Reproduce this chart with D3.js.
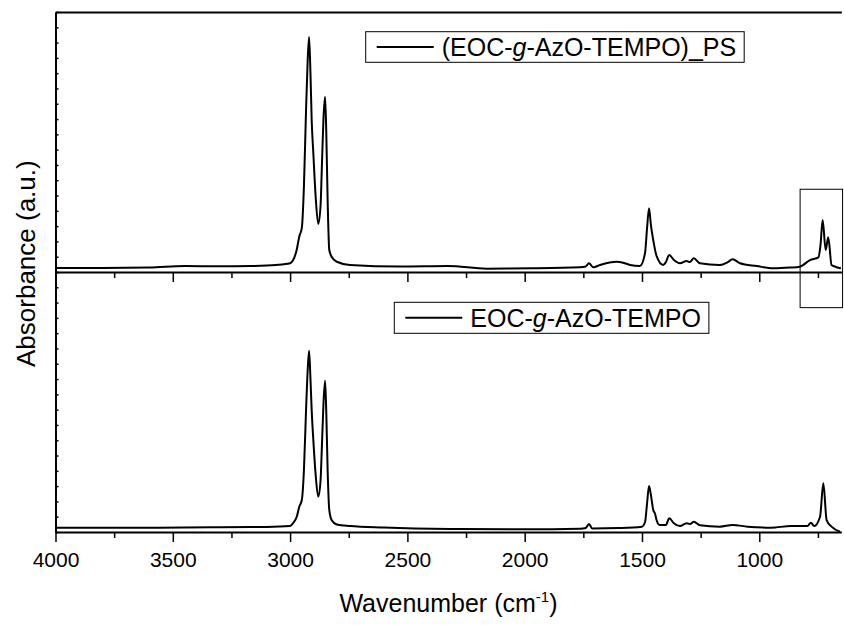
<!DOCTYPE html>
<html>
<head>
<meta charset="utf-8">
<script src="https://cdn.jsdelivr.net/npm/d3@7"></script>
<style>
  body { margin: 0; background: #fff; }
  svg { font-family: "Liberation Sans", Arial, sans-serif; }
</style>
</head>
<body>
<svg id="chart"></svg>
<script>
// top spectrum: (EOC-g-AzO-TEMPO)_PS
const psWave = [4000, 3800, 3600, 3450, 3300, 3170, 3060, 3000, 2987, 2972, 2961, 2950, 2941, 2932, 2925, 2919,
  2913, 2908, 2901, 2891, 2880, 2870, 2865, 2858, 2851, 2846, 2840, 2833, 2823, 2801, 2745, 2531, 2327, 2162,
  1965, 1764, 1740, 1726, 1708, 1679, 1608, 1580, 1551, 1509, 1487, 1479, 1470, 1462, 1452, 1438, 1410, 1398,
  1384, 1364, 1338, 1310, 1296, 1279, 1253, 1168, 1134, 1114, 1082, 1011, 940, 869, 827, 784, 748, 739, 730,
  717, 706, 692, 673, 652];
const psAbs = [-0.074, -0.074, -0.071, -0.061, -0.063, -0.061, -0.054, -0.043, -0.022, 0.044, 0.131, 0.188, 0.462,
  0.959, 1.286, 1.437, 1.188, 0.894, 0.678, 0.392, 0.214, 0.338, 0.567, 0.894, 1.046, 0.829, 0.371, 0.044, 0.0,
  -0.033, -0.054, -0.064, -0.061, -0.078, -0.076, -0.069, -0.064, -0.043, -0.069, -0.054, -0.033, -0.039, -0.054,
  -0.061, 0.024, 0.175, 0.317, 0.207, 0.109, 0.005, -0.054, -0.035, 0.011, -0.022, -0.043, -0.028, -0.035,
  -0.010, -0.043, -0.054, -0.035, -0.017, -0.043, -0.061, -0.076, -0.071, -0.065, -0.022, -0.004, 0.077, 0.240,
  0.044, 0.127, -0.054, -0.067, -0.076];

// bottom spectrum: EOC-g-AzO-TEMPO
const eocWave = [4000, 3600, 3300, 3100, 3000, 2987, 2972, 2961, 2950, 2941, 2932, 2925, 2919, 2913, 2908, 2901,
  2891, 2880, 2870, 2865, 2858, 2851, 2846, 2840, 2833, 2823, 2801, 2745, 2600, 2318, 2000, 1764, 1740, 1726,
  1712, 1600, 1500, 1487, 1479, 1470, 1462, 1452, 1444, 1438, 1425, 1398, 1384, 1364, 1338, 1310, 1296, 1279,
  1253, 1168, 1114, 1050, 950, 865, 795, 780, 766, 741, 727, 713, 692, 656];
const eocAbs = [-0.072, -0.072, -0.069, -0.067, -0.061, -0.041, -0.002, 0.065, 0.109, 0.305, 0.697, 0.959, 1.085,
  0.894, 0.697, 0.502, 0.273, 0.131, 0.240, 0.436, 0.730, 0.889, 0.697, 0.305, 0.044, -0.022, -0.051, -0.061,
  -0.071, -0.080, -0.082, -0.078, -0.074, -0.048, -0.077, -0.074, -0.065, -0.035, 0.077, 0.201, 0.142, 0.044,
  0.018, -0.022, -0.054, -0.054, -0.010, -0.043, -0.061, -0.043, -0.048, -0.033, -0.056, -0.065, -0.054,
  -0.065, -0.072, -0.061, -0.061, -0.039, -0.061, 0.0, 0.218, -0.022, -0.065, -0.098];

const majorTicks = [4000, 3500, 3000, 2500, 2000, 1500, 1000];
const minorTicks = [3750, 3250, 2750, 2250, 1750, 1250, 750];
const absTicks = d3.range(-0.1, 1.6001, 0.1);

// boxed region in the top panel (wavenumber / absorbance)
const boxWave = [826, 645];
const boxAbs = [0.441, -0.333];

const W = 844, H = 625;
const plotLeft = 55.5, plotRight = 841.4, plotTop = 12, plotMid = 272, plotBottom = 532;

const svg = d3.select('#chart').attr('width', W).attr('height', H);

const x = d3.scaleLinear().domain([4000, 650]).range([plotLeft, plotRight]);
const yTop = d3.scaleLinear().domain([-0.1, 1.6]).range([plotMid, plotTop]);
const yBot = d3.scaleLinear().domain([-0.1, 1.6]).range([plotBottom, plotMid]);

function styleAxis(g) {
  g.select('.domain').attr('stroke', '#000').attr('stroke-width', 2);
  g.selectAll('.tick line').attr('stroke', '#000').attr('stroke-width', 1.5);
}

// x axes for each panel
[[plotMid, false], [plotBottom, true]].forEach(([yPos, labels]) => {
  const gMaj = svg.append('g').attr('transform', `translate(0,${yPos})`)
    .call(d3.axisBottom(x).tickValues(majorTicks).tickSize(10).tickSizeOuter(0)
      .tickFormat(labels ? d3.format('d') : ''));
  styleAxis(gMaj);
  gMaj.selectAll('.tick text').attr('font-size', 21).attr('fill', '#000').attr('dy', '1.05em');
  const gMin = svg.append('g').attr('transform', `translate(0,${yPos})`)
    .call(d3.axisBottom(x).tickValues(minorTicks).tickSize(6).tickFormat(''));
  gMin.select('.domain').remove();
  gMin.selectAll('.tick line').attr('stroke', '#000').attr('stroke-width', 1.5);
});

// top frame line
const gTop = svg.append('g').attr('transform', `translate(0,${plotTop})`)
  .call(d3.axisTop(x).tickValues([]).tickSizeOuter(0));
styleAxis(gTop);

// left axes (inward minor ticks, no labels)
[yTop, yBot].forEach(y => {
  const g = svg.append('g').attr('transform', `translate(${plotLeft},0)`)
    .call(d3.axisLeft(y).tickValues(absTicks).tickSize(-3).tickSizeOuter(0).tickFormat(''));
  styleAxis(g);
});

// spectra
const series = [
  { wave: psWave, abs: psAbs, y: yTop },
  { wave: eocWave, abs: eocAbs, y: yBot }
];
series.forEach(s => {
  const pts = s.wave.map((w, i) => [w, s.abs[i]]);
  const line = d3.line()
    .x(d => x(d[0]))
    .y(d => s.y(d[1]))
    .curve(d3.curveMonotoneX);
  svg.append('path')
    .datum(pts)
    .attr('fill', 'none')
    .attr('stroke', '#000')
    .attr('stroke-width', 2)
    .attr('stroke-linejoin', 'round')
    .attr('d', line);
});

// highlight box
svg.append('rect')
  .attr('x', x(boxWave[0]))
  .attr('y', yTop(boxAbs[0]))
  .attr('width', x(boxWave[1]) - x(boxWave[0]))
  .attr('height', yTop(boxAbs[1]) - yTop(boxAbs[0]))
  .attr('fill', 'none')
  .attr('stroke', '#000')
  .attr('stroke-width', 1);

// legends
function legend(bx, by, bh, parts) {
  const g = svg.append('g');
  const box = g.append('rect')
    .attr('x', bx).attr('y', by).attr('height', bh)
    .attr('fill', '#fff').attr('stroke', '#000').attr('stroke-width', 1);
  const cy = by + bh / 2;
  g.append('line')
    .attr('x1', bx + 11).attr('x2', bx + 68)
    .attr('y1', cy).attr('y2', cy)
    .attr('stroke', '#000').attr('stroke-width', 2);
  const t = g.append('text')
    .attr('x', bx + 76).attr('y', cy + 9)
    .attr('font-size', 25).attr('fill', '#000');
  parts.forEach(p => {
    const sp = t.append('tspan').text(p.text);
    if (p.italic) sp.attr('font-style', 'italic');
  });
  const tw = t.node().getComputedTextLength();
  box.attr('width', 76 + tw + 8);
}
legend(365.7, 31.7, 30.6, [
  { text: '(EOC-' }, { text: 'g', italic: true }, { text: '-AzO-TEMPO)_PS' }
]);
legend(394.3, 302.3, 31, [
  { text: 'EOC-' }, { text: 'g', italic: true }, { text: '-AzO-TEMPO' }
]);

// axis titles
const xt = svg.append('text')
  .attr('x', (plotLeft + plotRight) / 2).attr('y', 612)
  .attr('text-anchor', 'middle').attr('font-size', 25).attr('fill', '#000');
xt.append('tspan').text('Wavenumber (cm');
xt.append('tspan').text('-1').attr('font-size', 15).attr('dy', -10);
xt.append('tspan').text(')').attr('dy', 10);

svg.append('text')
  .attr('transform', `translate(35,367) rotate(-90)`)
  .attr('text-anchor', 'start').attr('font-size', 26).attr('fill', '#000')
  .text('Absorbance (a.u.)');
</script>
</body>
</html>
